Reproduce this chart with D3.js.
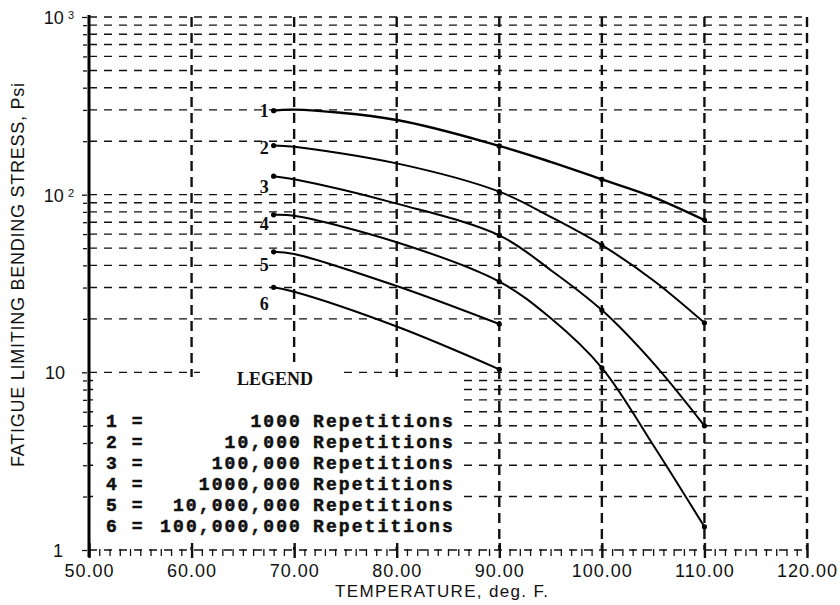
<!DOCTYPE html>
<html>
<head>
<meta charset="utf-8">
<script src="https://cdn.jsdelivr.net/npm/d3@7"></script>
<style>
  html, body { margin: 0; padding: 0; background: #fff; }
  svg { display: block; }
  .sans { font-family: "Liberation Sans", Arial, sans-serif; fill: #111; }
  .mono { font-family: "Liberation Mono", "Courier New", monospace; font-weight: bold; fill: #111; }
  .serif { font-family: "Liberation Serif", "Times New Roman", serif; font-weight: bold; fill: #111; }
</style>
</head>
<body>
<svg id="chart" width="840" height="605"></svg>
<script>
// Temperatures (deg F) at which each curve is read
const temps = [68, 70, 80, 90, 95, 100, 105, 110];

// Fatigue limiting bending stress (psi) for each repetition count
const rep1 = [297, 301, 263, 188, 153, 122, 97, 72];
const rep2 = [189, 186, 150, 104, 75, 52, 33, 19];
const rep3 = [127, 122, 89, 59, 37.7, 22.4, 11.3, 5.0];
const rep4 = [77, 76, 54, 32.4, 20.2, 10.6, 3.9, 1.35];
const rep5 = [47.7, 46.4, 30.6, 18.7];
const rep6 = [30.1, 28.4, 18.1, 10.4];

// Temperatures carrying a plotted point marker
const markedTemps = [68, 90, 100, 110];

// Curve identifiers and legend text
const curveKeys = ["1", "2", "3", "4", "5", "6"];
const legendCounts = ["1000", "10,000", "100,000", "1000,000", "10,000,000", "100,000,000"];

// Axis ticks
const xTicks = [50, 60, 70, 80, 90, 100, 110, 120];
const yMajor = [1, 10, 100, 1000];

const series = [rep1, rep2, rep3, rep4, rep5, rep6];

const svg = d3.select("#chart");
const plotL = 89, plotR = 807, plotT = 17, plotB = 550;

const x = d3.scaleLinear().domain([50, 120]).range([plotL, plotR]);
const y = d3.scaleLog().domain([1, 1000]).range([plotB, plotT]);

// Minor log values: 2..9 in each decade
const yMinor = [];
[1, 10, 100].forEach(d => { for (let k = 2; k <= 9; k++) yMinor.push(d * k); });

// ---- horizontal dashed grid ----
const gridH = svg.append("g");
gridH.selectAll("line").data(yMajor.concat(yMinor)).join("line")
  .attr("x1", plotL).attr("x2", plotR - 4)
  .attr("y1", d => y(d)).attr("y2", d => y(d))
  .attr("stroke", "#111").attr("stroke-width", 1.4)
  .attr("stroke-dasharray", "8,7");

// ---- vertical dashed grid ----
const gridV = svg.append("g");
gridV.selectAll("line").data(xTicks.slice(1)).join("line")
  .attr("x1", d => x(d)).attr("x2", d => x(d))
  .attr("y1", plotT).attr("y2", plotB)
  .attr("stroke", "#111").attr("stroke-width", 2.4)
  .attr("stroke-dasharray", "10,6");

// ---- legend background (hides the grid behind the legend text) ----
svg.append("rect").attr("x", 200).attr("y", 362).attr("width", 138).attr("height", 16).attr("fill", "#fff");
svg.append("rect").attr("x", 93).attr("y", 377).attr("width", 369).attr("height", 170).attr("fill", "#fff");

// ---- x axis: minor and major ticks with labels ----
const xMinorAxis = d3.axisBottom(x).tickValues(d3.range(50, 121, 1)).tickSize(7).tickFormat("");
const gxm = svg.append("g").attr("transform", `translate(0,${plotB - 1})`).call(xMinorAxis);
gxm.select(".domain").remove();
gxm.selectAll("line").attr("stroke", "#111").attr("stroke-width", 1.3);

const xAxis = d3.axisBottom(x).tickValues(xTicks).tickSize(8).tickPadding(6).tickFormat(d3.format(".2f"));
const gx = svg.append("g").attr("transform", `translate(0,${plotB})`).call(xAxis);
gx.select(".domain").remove();
gx.selectAll("line").attr("y1", -7).attr("stroke", "#111").attr("stroke-width", 2.4);
gx.selectAll("text").attr("class", "sans").attr("font-size", 18).attr("letter-spacing", 1)
  .attr("fill", "#111");

// ---- y axis: minor ticks, major labels ----
const yMinorAxis = d3.axisLeft(y).tickValues(yMinor).tickSize(4).tickFormat("");
const gym = svg.append("g").attr("transform", `translate(${plotL - 2},0)`).call(yMinorAxis);
gym.select(".domain").remove();
gym.selectAll("line").attr("stroke", "#111").attr("stroke-width", 1.3);

const supers = { 100: "2", 1000: "3" };
const yAxis = d3.axisLeft(y).tickValues(yMajor).tickSize(5).tickFormat("");
const gy = svg.append("g").attr("transform", `translate(${plotL - 2},0)`).call(yAxis);
gy.select(".domain").remove();
gy.selectAll("line").attr("stroke", "#111").attr("stroke-width", 1.3);
gy.selectAll(".tick").each(function(d) {
  const t = d3.select(this).append("text")
    .attr("class", "sans").attr("font-size", 18).attr("text-anchor", "end")
    .attr("dy", "0.36em").attr("fill", "#111");
  if (supers[d]) {
    t.attr("x", -13);
    t.append("tspan").text("10");
    t.append("tspan").attr("dx", 4).attr("dy", "-0.45em").attr("font-size", 11).text(supers[d]);
  } else if (d === 10) {
    t.attr("x", -22).text("10");
  } else {
    t.attr("x", -24).text("1");
  }
});

// solid y axis line
svg.append("line").attr("x1", plotL).attr("x2", plotL).attr("y1", plotT - 2).attr("y2", plotB + 7)
  .attr("stroke", "#000").attr("stroke-width", 3);

// ---- curves ----
const line = d3.line().x(d => x(d[0])).y(d => y(d[1])).curve(d3.curveCatmullRom.alpha(0.5));
series.forEach((vals, i) => {
  const pts = vals.map((v, j) => [temps[j], v]);
  svg.append("path").datum(pts).attr("d", line)
    .attr("fill", "none").attr("stroke", "#000").attr("stroke-width", i === 0 ? 2.4 : 2);
  svg.append("g").selectAll("circle").data(pts.filter(p => markedTemps.includes(p[0]))).join("circle")
    .attr("cx", d => x(d[0])).attr("cy", d => y(d[1])).attr("r", 2.6).attr("fill", "#000");
});

// curve numbers beside the first point of each curve
const labelDy = [0, 2, 10, 9, 13, 16];
series.forEach((vals, i) => {
  svg.append("text").attr("class", "serif").attr("font-size", 18)
    .attr("text-anchor", "end")
    .attr("x", x(temps[0]) - 5).attr("y", y(vals[0]) + labelDy[i]).attr("dy", "0.35em")
    .text(curveKeys[i]);
});

// ---- legend ----
svg.append("text").attr("class", "serif").attr("font-size", 18).attr("text-anchor", "middle")
  .attr("x", 275).attr("y", 385).text("LEGEND");
const lg = svg.append("g").attr("class", "mono").attr("font-size", 18).attr("letter-spacing", 2.1)
  .attr("stroke", "#111").attr("stroke-width", 0.5);
curveKeys.forEach((k, i) => {
  const yy = 427 + i * 20.9;
  lg.append("text").attr("x", 106).attr("y", yy).text(k + " =");
  lg.append("text").attr("x", 302).attr("y", yy).attr("text-anchor", "end").text(legendCounts[i]);
  lg.append("text").attr("x", 313).attr("y", yy).text("Repetitions");
});

// ---- axis titles ----
svg.append("text").attr("class", "sans").attr("font-size", 17)
  .attr("x", 335).attr("y", 597).attr("textLength", 213).attr("lengthAdjust", "spacing")
  .text("TEMPERATURE, deg. F.");
svg.append("text").attr("class", "sans").attr("font-size", 18)
  .attr("transform", "translate(24,467) rotate(-90)")
  .attr("textLength", 384).attr("lengthAdjust", "spacing")
  .text("FATIGUE LIMITING BENDING STRESS, Psi");
</script>
</body>
</html>
